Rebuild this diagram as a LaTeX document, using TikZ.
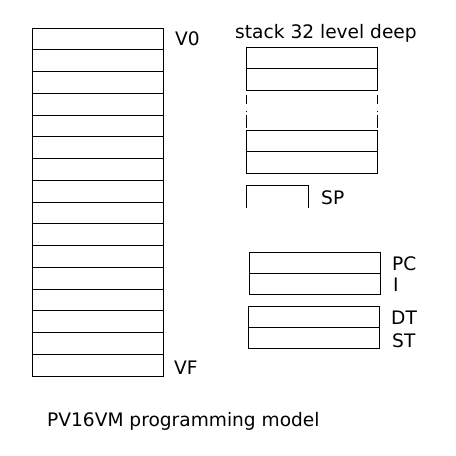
\documentclass[tikz,border=0pt]{standalone}
\usepackage{fontspec}
\setmainfont{DejaVu Sans}
\begin{document}
\begin{tikzpicture}[x=1pt,y=1pt,
  cell/.style={draw, line width=0.8pt, minimum width=131pt, minimum height=21.75pt, inner sep=0pt, outer sep=0pt, anchor=north west},
  scell/.style={draw, line width=0.8pt, minimum width=131pt, minimum height=21.5pt, inner sep=0pt, outer sep=0pt, anchor=north west},
  lbl/.style={font=\fontsize{18.6}{22}\selectfont, inner sep=0pt, anchor=west}]
\useasboundingbox (0,0) rectangle (456,456);
% register file V0..VF
\foreach \i in {0,...,15} {
  \node[cell] (v\i) at (32,{456-28-\i*21.75}) {};
}
\node[lbl] (lv0) at (175,417) {V0};
\node[lbl] (lvf) at (174,88) {VF};
% stack
\node[lbl, anchor=center] (lstack) at (326,423) {stack 32 level deep};
\node[scell] (s0) at (246,409) {};
\node[scell] (s1) at (246,387.5) {};
\node[scell] (s2) at (246,326) {};
\node[scell] (s3) at (246,304.5) {};
\draw[line width=0.8pt, dash pattern=on 9pt off 7pt on 1.5pt off 3pt on 13pt off 5pt, dash phase=33.5pt] (s1.south west) -- (s2.north west);
\draw[line width=0.8pt, dash pattern=on 9pt off 7pt on 1.5pt off 3pt on 13pt off 5pt, dash phase=33.5pt] (s1.south east) -- (s2.north east);
% SP
\coordinate (sp1) at (246,248);
\coordinate (sp2) at (246,271);
\coordinate (sp3) at (308,271);
\coordinate (sp4) at (308,248);
\draw[line width=0.8pt] (sp1) -- (sp2) -- (sp3) -- (sp4);
\node[lbl] (lsp) at (321,258) {SP};
% PC / I
\node[scell, minimum height=21pt] (pc) at (249,204) {};
\node[scell, minimum height=21pt] (ir) at (249,183) {};
\node[lbl] (lpc) at (392,192) {PC};
\node[lbl] (li) at (393,171) {I};
% DT / ST
\node[scell, minimum height=21pt] (dt) at (248,150) {};
\node[scell, minimum height=21pt] (st) at (248,129) {};
\node[lbl] (ldt) at (391,138) {DT};
\node[lbl] (lst) at (392,115) {ST};
% title
\node[lbl] (title) at (47,35) {PV16VM programming model};
\end{tikzpicture}
\end{document}
